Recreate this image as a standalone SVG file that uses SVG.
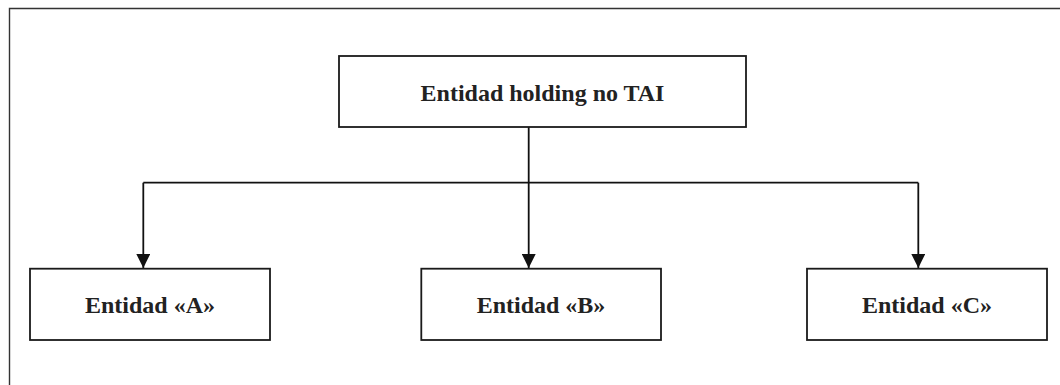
<svg xmlns="http://www.w3.org/2000/svg" width="1060" height="385" viewBox="0 0 1060 385">
  <style>
    .box { fill: #ffffff; stroke: #1a1a1a; stroke-width: 1.8; }
    .lbl { font-family: "Liberation Serif", "Times New Roman", serif; font-weight: bold; font-size: 24px; fill: #222222; text-anchor: middle; }
    .conn { fill: none; stroke: #111111; stroke-width: 1.8; }
    .frame { fill: none; stroke: #333333; stroke-width: 1.4; }
  </style>
  <defs>
    <marker id="arrow" markerWidth="14" markerHeight="14" refX="14" refY="7" orient="auto" markerUnits="userSpaceOnUse">
      <path d="M0,0 L14,7 L0,14 Z" fill="#111111"/>
    </marker>
  </defs>
  <rect width="1060" height="385" fill="#ffffff"/>
  <path class="frame" d="M9.5,385 L9.5,8.5 L1060,8.5"/>
  <g id="connectors">
    <path class="conn" d="M528.7,127 L528.7,182.7"/>
    <path class="conn" d="M143.3,182.7 L918.3,182.7"/>
    <path class="conn" d="M143.3,182.7 L143.3,268" marker-end="url(#arrow)"/>
    <path class="conn" d="M528.7,182.7 L528.7,268" marker-end="url(#arrow)"/>
    <path class="conn" d="M918.3,182.7 L918.3,268" marker-end="url(#arrow)"/>
  </g>
  <g id="holding">
    <rect class="box" x="339" y="56" width="407" height="71"/>
    <text class="lbl" x="542.5" y="101">Entidad holding no TAI</text>
  </g>
  <g id="entidadA">
    <rect class="box" x="30" y="268.7" width="240" height="71.3"/>
    <text class="lbl" x="150" y="312.7">Entidad «A»</text>
  </g>
  <g id="entidadB">
    <rect class="box" x="421.3" y="268.7" width="239.7" height="71.3"/>
    <text class="lbl" x="541" y="312.7">Entidad «B»</text>
  </g>
  <g id="entidadC">
    <rect class="box" x="807" y="268.7" width="240" height="71.3"/>
    <text class="lbl" x="927" y="312.7">Entidad «C»</text>
  </g>
</svg>
